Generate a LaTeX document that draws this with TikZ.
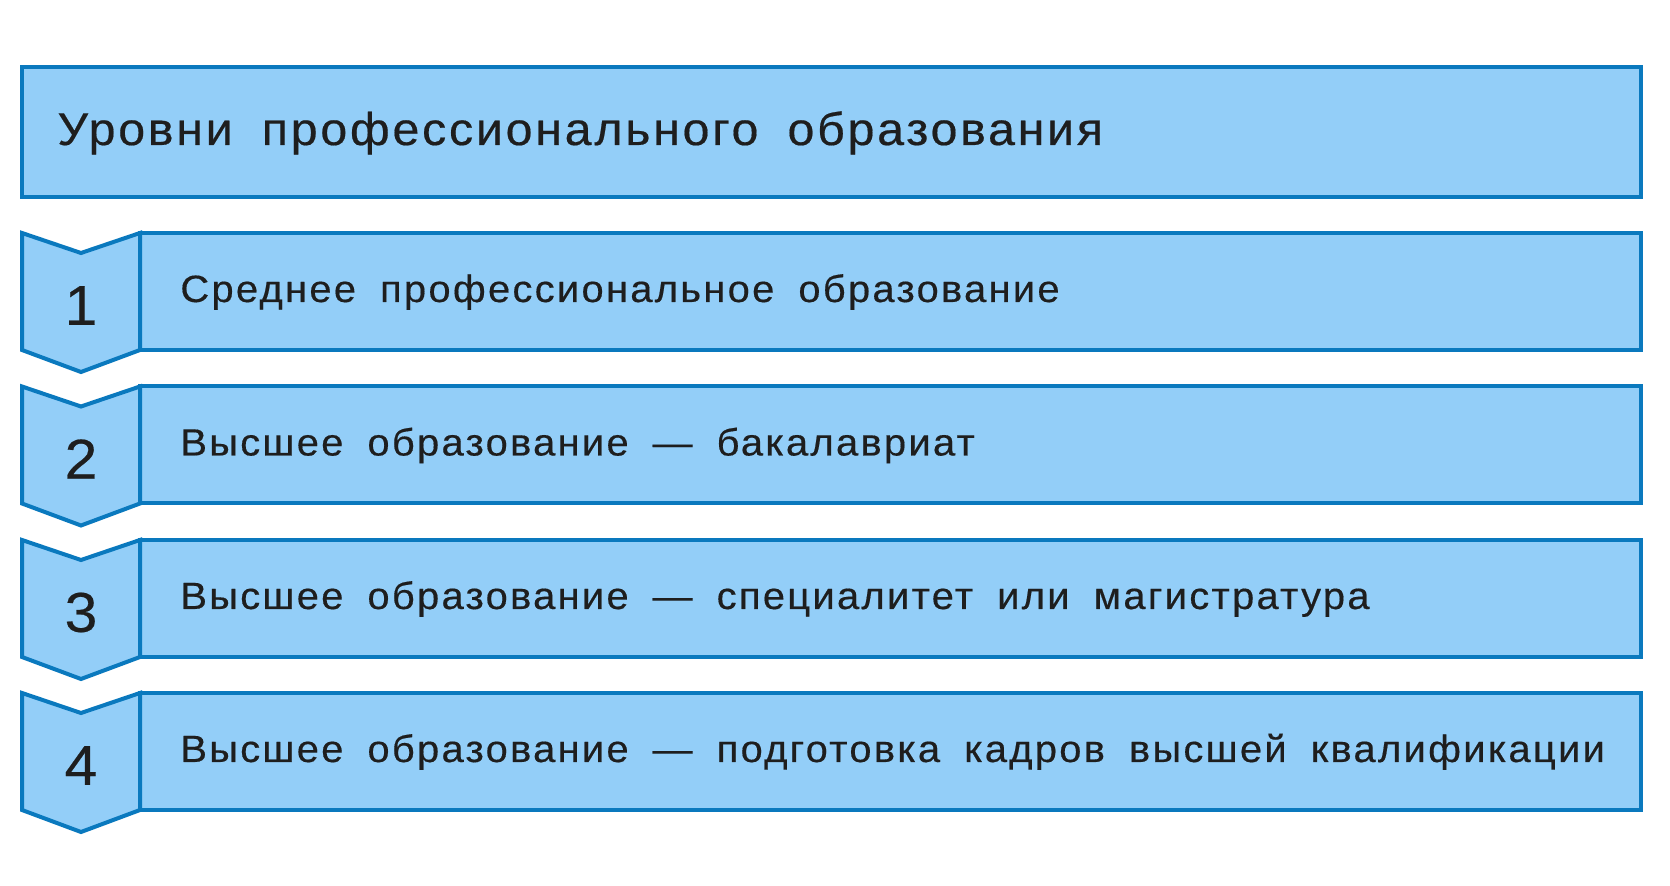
\documentclass[tikz,border=0pt]{standalone}
\usepackage{fontspec}
\setmainfont{Liberation Sans}[LetterSpace=6,WordSpace=1.8,FakeStretch=1.05,FakeBold=0.4]
\definecolor{boxfill}{HTML}{93CEF8}
\definecolor{boxline}{HTML}{0A79BE}
\definecolor{txt}{HTML}{1E1E1E}
\tikzset{
  px/.style={x=0.5pt,y=-0.5pt},
  shapebox/.style={fill=boxfill,draw=boxline,line width=2pt,line join=miter},
  titletext/.style={anchor=base west,inner sep=0pt,text=txt,font=\fontsize{23}{26}\selectfont},
  rowtext/.style={anchor=base west,inner sep=0pt,text=txt,font=\fontsize{19}{22}\selectfont},
  numtext/.style={anchor=center,inner sep=0pt,text=txt,font=\fontsize{28}{30}\selectfont\addfontfeatures{LetterSpace=0}},
}
\begin{document}
\begin{tikzpicture}[px]
\useasboundingbox (0,0) rectangle (1670,886);
\fill[white] (0,0) rectangle (1670,886);
% title
\path[shapebox] (22,67) rectangle (1641,197);
\node[titletext] (title) at (57,145) {Уровни профессионального образования};
% rows
\foreach \i/\t/\txt in {1/233/{Среднее профессиональное образование},
                        2/386.5/{Высшее образование — бакалавриат},
                        3/540/{Высшее образование — специалитет или магистратура},
                        4/693/{Высшее образование — подготовка кадров высшей квалификации}}{
  \path[shapebox] (140,\t) rectangle (1641,\t+117);
  \path[shapebox] (22,\t) -- (81,\t+20) -- (140,\t) -- (140,\t+117) -- (81,\t+139) -- (22,\t+117) -- cycle;
  \node[numtext] (n\i) at (81,\t+72.5) {\i};
  \node[rowtext] (r\i) at (180,\t+69) {\txt};
}
\end{tikzpicture}
\end{document}
